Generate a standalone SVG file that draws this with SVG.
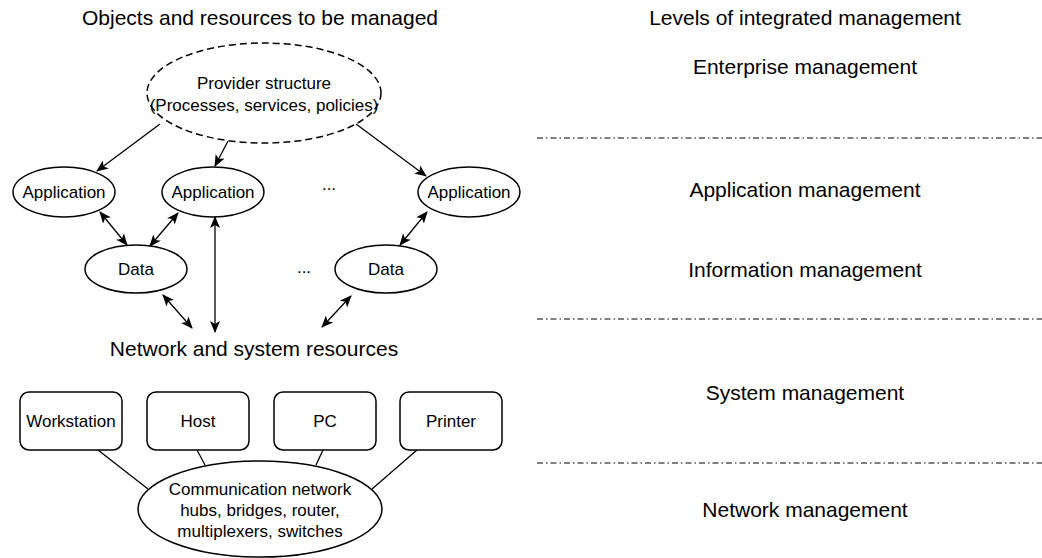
<svg xmlns="http://www.w3.org/2000/svg" width="1042" height="558" viewBox="0 0 1042 558">
  <style>
    text { font-family: "Liberation Sans", Arial, sans-serif; fill: #000; }
    .head { font-size: 21px; text-anchor: middle; }
    .lbl { font-size: 17px; text-anchor: middle; }
    .shape { fill: #fff; stroke: #000; stroke-width: 1.5; }
    .dashed { fill: #fff; stroke: #000; stroke-width: 1.5; stroke-dasharray: 7 4; }
    .edge { fill: none; stroke: #000; stroke-width: 1.3; }
    .sep { fill: none; stroke: #000; stroke-width: 1.2; stroke-dasharray: 6 3 1.5 3; }
  </style>
  <defs>
    <marker id="head" viewBox="0 0 12 10" refX="11" refY="5" markerWidth="12" markerHeight="10" markerUnits="userSpaceOnUse" orient="auto-start-reverse">
      <path d="M0,0 L12,5 L0,10 L3,5 Z" fill="#000"/>
    </marker>
  </defs>

  <rect width="1042" height="558" fill="#fff"/>

  <!-- column headings -->
  <text class="head" x="260" y="25">Objects and resources to be managed</text>
  <text class="head" x="805" y="25">Levels of integrated management</text>

  <!-- management levels -->
  <g id="levels">
    <text class="head" x="805" y="74">Enterprise management</text>
    <line class="sep" x1="537" y1="138" x2="1042" y2="138"/>
    <text class="head" x="805" y="197">Application management</text>
    <text class="head" x="805" y="277">Information management</text>
    <line class="sep" x1="537" y1="319" x2="1042" y2="319"/>
    <text class="head" x="805" y="400">System management</text>
    <line class="sep" x1="537" y1="463" x2="1042" y2="463"/>
    <text class="head" x="805" y="517">Network management</text>
  </g>

  <!-- connectors -->
  <g id="connectors">
    <line class="edge" x1="160" y1="124" x2="97" y2="171" marker-end="url(#head)"/>
    <line class="edge" x1="228" y1="141" x2="215" y2="166" marker-end="url(#head)"/>
    <line class="edge" x1="356" y1="124" x2="426" y2="176" marker-end="url(#head)"/>
    <line class="edge" x1="100" y1="212" x2="127" y2="245" marker-start="url(#head)" marker-end="url(#head)"/>
    <line class="edge" x1="178" y1="213" x2="150" y2="246" marker-start="url(#head)" marker-end="url(#head)"/>
    <line class="edge" x1="215" y1="217" x2="215" y2="332" marker-start="url(#head)" marker-end="url(#head)"/>
    <line class="edge" x1="427" y1="212" x2="400" y2="245" marker-start="url(#head)" marker-end="url(#head)"/>
    <line class="edge" x1="163" y1="295" x2="192" y2="328" marker-start="url(#head)" marker-end="url(#head)"/>
    <line class="edge" x1="351" y1="296" x2="322" y2="327" marker-start="url(#head)" marker-end="url(#head)"/>
    <line class="edge" x1="98" y1="450" x2="148" y2="489"/>
    <line class="edge" x1="197" y1="450" x2="205" y2="465"/>
    <line class="edge" x1="323" y1="450" x2="316" y2="465"/>
    <line class="edge" x1="417" y1="450" x2="372" y2="489"/>
  </g>

  <!-- provider structure -->
  <g id="provider">
    <ellipse class="dashed" cx="264" cy="93" rx="117" ry="50"/>
    <text class="lbl" x="264" y="89">Provider structure</text>
    <text class="lbl" x="264" y="111">(Processes, services, policies)</text>
  </g>

  <!-- applications -->
  <g id="app1">
    <ellipse class="shape" cx="64" cy="192" rx="51" ry="25"/>
    <text class="lbl" x="64" y="198">Application</text>
  </g>
  <g id="app2">
    <ellipse class="shape" cx="213" cy="192" rx="51" ry="25"/>
    <text class="lbl" x="213" y="198">Application</text>
  </g>
  <text class="lbl" x="329" y="190">...</text>
  <g id="app3">
    <ellipse class="shape" cx="469" cy="192" rx="51" ry="25"/>
    <text class="lbl" x="469" y="198">Application</text>
  </g>

  <!-- data -->
  <g id="data1">
    <ellipse class="shape" cx="136" cy="269" rx="51" ry="24"/>
    <text class="lbl" x="136" y="275">Data</text>
  </g>
  <text class="lbl" x="304" y="273">...</text>
  <g id="data2">
    <ellipse class="shape" cx="386" cy="269" rx="51" ry="24"/>
    <text class="lbl" x="386" y="275">Data</text>
  </g>

  <text class="head" x="254" y="356">Network and system resources</text>

  <!-- end systems -->
  <g id="workstation">
    <rect class="shape" x="20" y="392" width="102" height="58" rx="9"/>
    <text class="lbl" x="71" y="427">Workstation</text>
  </g>
  <g id="host">
    <rect class="shape" x="147" y="392" width="102" height="58" rx="9"/>
    <text class="lbl" x="198" y="427">Host</text>
  </g>
  <g id="pc">
    <rect class="shape" x="274" y="392" width="102" height="58" rx="9"/>
    <text class="lbl" x="325" y="427">PC</text>
  </g>
  <g id="printer">
    <rect class="shape" x="400" y="392" width="102" height="58" rx="9"/>
    <text class="lbl" x="451" y="427">Printer</text>
  </g>

  <!-- communication network -->
  <g id="network">
    <ellipse class="shape" cx="260" cy="509" rx="122" ry="48"/>
    <text class="lbl" x="260" y="495">Communication network</text>
    <text class="lbl" x="260" y="516">hubs, bridges, router,</text>
    <text class="lbl" x="260" y="537">multiplexers, switches</text>
  </g>
</svg>
